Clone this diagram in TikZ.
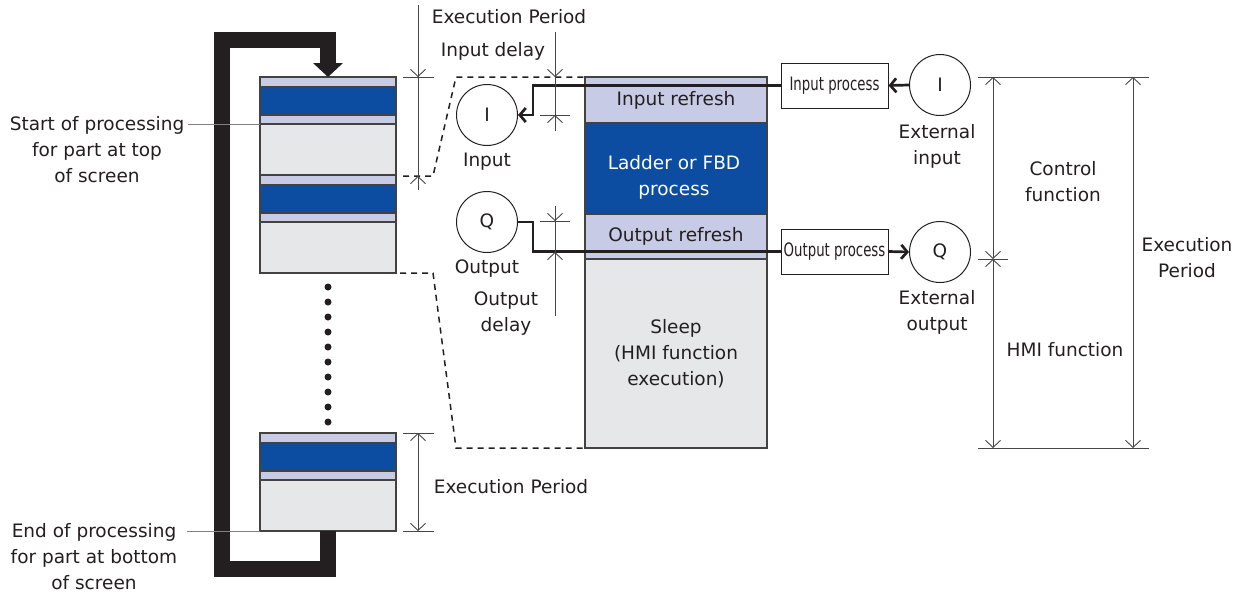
\documentclass[tikz,border=0pt]{standalone}
\usepackage{fontspec}
\setmainfont{DejaVu Sans}
\usetikzlibrary{arrows.meta,positioning,calc}

\definecolor{scanblue}{RGB}{12,77,161}
\definecolor{scanlav}{RGB}{200,203,229}
\definecolor{scangrey}{RGB}{230,231,233}
\definecolor{ink}{RGB}{35,31,32}
\definecolor{dimgrey}{RGB}{70,70,70}

\newcommand{\figfont}{\fontsize{18.5}{26}\selectfont}
\newcommand{\condtext}[1]{\scalebox{0.72}[1]{#1}}

\tikzset{
  band/.style={draw=ink!85, line width=1.3pt, inner sep=0pt, outer sep=0pt,
    anchor=north west, minimum width=182pt, font=\figfont, text=ink},
  cell/.style={draw=ink!85, line width=1.3pt},
  lbl/.style={font=\figfont, text=ink, align=center, inner sep=0pt},
  ioring/.style={circle, draw=ink, line width=1pt, minimum size=61pt,
    inner sep=0pt, font=\figfont, text=ink},
  procbox/.style={draw=ink, line width=1pt, minimum width=107pt,
    minimum height=45pt, inner sep=0pt, font=\figfont, text=ink},
  wire/.style={draw=ink, line width=2.7pt},
  wiretip/.style={-{Straight Barb[length=6pt,width=14pt]}},
  dimline/.style={draw=dimgrey, line width=0.9pt},
  dimtip/.style={-{Straight Barb[length=7pt,width=15pt]}},
  dimboth/.style={{Straight Barb[length=7pt,width=15pt]}-{Straight Barb[length=7pt,width=15pt]}},
  cutline/.style={draw=ink, line width=1.5pt, dash pattern=on 6pt off 5pt},
  scanloop/.style={draw=ink, line width=16pt},
  callout/.style={draw=gray, line width=1pt}
}

\begin{document}
\begin{tikzpicture}[x=1pt,y=-1pt]
\useasboundingbox (0,0) rectangle (1246,595);

% scan blocks on the left
\foreach \t in {77,175,433}{
  \draw[cell, fill=scanlav] (260,\t) rectangle ++(136,10);
  \draw[cell, fill=scanblue] (260,\t+10) rectangle ++(136,28);
  \draw[cell, fill=scanlav] (260,\t+38) rectangle ++(136,9);
  \draw[cell, fill=scangrey] (260,\t+47) rectangle ++(136,51);
}

% loop back from bottom to top
\coordinate (looptop) at (328,77);
\coordinate (loopbot) at (328,531);
\draw[scanloop] (loopbot) -- ++(0,38) -| (222,40) -| ($(looptop)+(0,-13)$);
\fill[ink] ($(looptop)+(-15,-14)$) -- ($(looptop)+(15,-14)$) -- (looptop) -- cycle;

\foreach \k in {0,...,9}
  \fill[ink] (328,287+15*\k) circle[radius=3.5pt];

% callouts
\node[lbl] (startnote) at (97,150) {Start of processing\\for part at top\\of screen};
\node[lbl] (endnote) at (94,557) {End of processing\\for part at bottom\\of screen};
\coordinate (startpt) at (260,124);
\coordinate (endpt) at (260,531);
\draw[callout] (startpt) -- ([xshift=4pt]startpt -| startnote.east);
\draw[callout] (endpt) -- ([xshift=10pt]endpt -| endnote.east);

% one execution period
\node[band, fill=scanlav, minimum height=46pt] (inref) at (585,77) {Input refresh};
\node[band, fill=scanblue, minimum height=91pt] (ladder) at (inref.south west) {};
\node[band, fill=scanlav, minimum height=45pt] (outref) at (ladder.south west) {Output refresh};
\node[band, fill=scangrey, minimum height=189pt, align=center] (sleep) at (outref.south west)
  {Sleep\\(HMI function\\execution)};
\node[lbl, text=white] (ladtxt) at (674,177) {Ladder or FBD\\process};

% zoom lines
\draw[cutline] (403,176) -- (433,176) -- (456,77) -- (inref.north west);
\draw[cutline] (400,273) -- (433,273) -- (456,448) -- (sleep.south west);

% inputs and outputs
\node[ioring] (inI) at (487,115) {I};
\node[ioring] (outQ) at (487,222) {Q};
\node[ioring] (extI) at (940,85) {I};
\node[ioring] (extQ) at (940,252) {Q};
\node[procbox] (inproc) at (834.5,85.5) {\condtext{Input process}};
\node[procbox] (outproc) at (834.5,251.5) {\condtext{Output process}};

\draw[wire, wiretip] (extI.west) -- (inproc.east);
\draw[wire, wiretip] (inproc.west) -| ($(inI.east)+(15,0)$) -- (inI.east);
\draw[wire] (outQ.east) -- ++(15,0) |- (outproc.west);
\draw[wire, wiretip] (outproc.east) -- (extQ.west);

% dimension lines
\draw[dimline] (418,5) -- (418,190);
\draw[dimline] (403,77) -- (434,77);
\draw[dimline, dimtip] (418,60) -- (418,77);
\draw[dimline, dimtip] (418,190) -- (418,176);

\draw[dimline] (555,32) -- (555,131);
\draw[dimline] (540,115) -- (570,115);
\draw[dimline, dimtip] (555,60) -- (555,77);
\draw[dimline, dimtip] (555,131) -- (555,115);

\draw[dimline] (555,206) -- (555,316);
\draw[dimline] (540,221) -- (570,221);
\draw[dimline, dimtip] (555,206) -- (555,221);
\draw[dimline, dimtip] (555,270) -- (555,252);

\draw[dimline] (403,433) -- (434,433);
\draw[dimline] (403,531) -- (434,531);
\draw[dimline, dimboth] (418,433) -- (418,531);

\draw[dimline] (978,77) -- (1149,77);
\draw[dimline] (978,448) -- (1149,448);
\draw[dimline] (978,259) -- (1008,259);
\draw[dimline, dimboth] (993,77) -- (993,259);
\draw[dimline, dimboth] (993,259) -- (993,448);
\draw[dimline, dimboth] (1133,77) -- (1133,448);

% labels
\node[lbl] (toplbl) at (509,17) {Execution Period};
\node[lbl] (indelay) at (493,51) {Input delay};
\node[lbl] (inlbl) at (487,162) {Input};
\node[lbl] (outlbl) at (487,269) {Output};
\node[lbl] (outdelay) at (506,314) {Output\\delay};
\node[lbl] (botlbl) at (511,487) {Execution Period};
\node[lbl] (extinlbl) at (937,146) {External\\input};
\node[lbl] (extoutlbl) at (937,312) {External\\output};
\node[lbl] (ctrllbl) at (1063,182) {Control\\function};
\node[lbl] (hmilbl) at (1065,350) {HMI function};
\node[lbl] (periodlbl) at (1187,258) {Execution\\Period};
\end{tikzpicture}
\end{document}
